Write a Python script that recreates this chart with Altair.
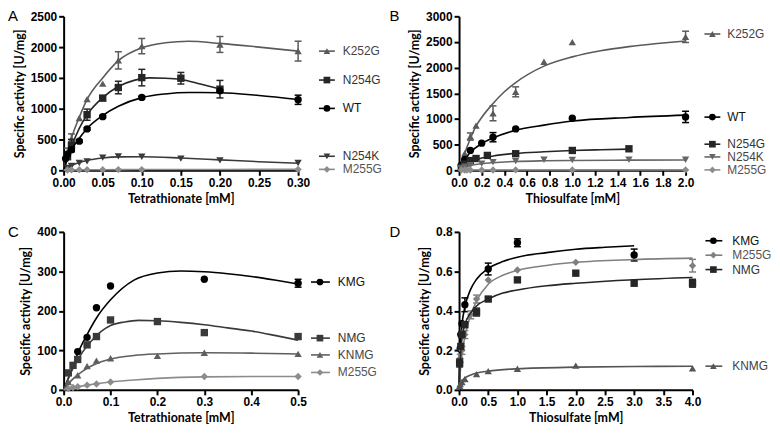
import altair as alt
import pandas as pd

# ---------------- Panel A : Tetrathionate ----------------
A_K252G_x = [0.005, 0.01, 0.02, 0.03, 0.05, 0.07, 0.10, 0.20, 0.30]
A_K252G_y = [300, 511, 850, 1156, 1408, 1785, 2016, 2043, 1935]
A_K252G_e = [60, 80, 0, 0, 0, 140, 124, 129, 161]
A_K252G_cx = [0, 0.01, 0.02, 0.03, 0.05, 0.07, 0.10, 0.13, 0.16, 0.20, 0.25, 0.30]
A_K252G_cy = [0, 520, 860, 1150, 1500, 1780, 1990, 2070, 2095, 2060, 2000, 1935]

A_N254G_x = [0.005, 0.01, 0.03, 0.05, 0.07, 0.10, 0.15, 0.20]
A_N254G_y = [220, 403, 903, 1172, 1344, 1505, 1495, 1317]
A_N254G_e = [0, 100, 91, 40, 102, 134, 94, 142]
A_N254G_cx = [0, 0.01, 0.02, 0.03, 0.05, 0.07, 0.09, 0.11, 0.13, 0.15, 0.175, 0.20]
A_N254G_cy = [0, 380, 680, 900, 1180, 1360, 1460, 1500, 1495, 1475, 1400, 1320]

A_WT_x = [0.0025, 0.005, 0.01, 0.02, 0.03, 0.05, 0.10, 0.20, 0.30]
A_WT_y = [190, 260, 334, 473, 672, 871, 1183, 1290, 1145]
A_WT_e = [0, 0, 30, 20, 20, 20, 20, 0, 75]
A_WT_cx = [0, 0.005, 0.01, 0.02, 0.03, 0.05, 0.07, 0.10, 0.13, 0.16, 0.20, 0.25, 0.30]
A_WT_cy = [0, 190, 330, 520, 680, 890, 1040, 1180, 1240, 1263, 1260, 1215, 1150]

A_N254K_x = [0.005, 0.01, 0.02, 0.03, 0.05, 0.07, 0.10, 0.15, 0.20, 0.30]
A_N254K_y = [40, 70, 118, 145, 205, 226, 220, 190, 161, 118]
A_N254K_e = [0, 0, 0, 0, 0, 0, 0, 0, 0, 0]
A_N254K_cx = [0, 0.01, 0.02, 0.03, 0.05, 0.07, 0.10, 0.15, 0.20, 0.25, 0.30]
A_N254K_cy = [0, 75, 125, 160, 200, 218, 220, 200, 170, 140, 115]

A_M255G_x = [0.005, 0.01, 0.02, 0.03, 0.05, 0.07, 0.10, 0.30]
A_M255G_y = [5, 8, 10, 10, 10, 12, 12, 15]
A_M255G_e = [0, 0, 0, 0, 0, 0, 0, 0]
A_M255G_cx = [0, 0.01, 0.05, 0.10, 0.20, 0.30]
A_M255G_cy = [0, 6, 10, 12, 14, 15]

# ---------------- Panel B : Thiosulfate ----------------
B_K252G_x = [0.02, 0.05, 0.1, 0.15, 0.3, 0.5, 0.75, 1.0, 2.0]
B_K252G_y = [130, 330, 658, 871, 1110, 1529, 2116, 2497, 2600]
B_K252G_e = [0, 0, 70, 0, 145, 97, 0, 0, 110]
B_K252G_cx = [0, 0.05, 0.1, 0.15, 0.2, 0.3, 0.4, 0.5, 0.75, 1.0, 1.25, 1.5, 1.75, 2.0]
B_K252G_cy = [0, 330, 620, 860, 1030, 1300, 1530, 1710, 2030, 2210, 2330, 2410, 2470, 2520]

B_WT_x = [0.02, 0.05, 0.1, 0.2, 0.3, 0.5, 1.0, 2.0]
B_WT_y = [100, 210, 387, 529, 645, 806, 1013, 1040]
B_WT_e = [0, 0, 0, 0, 90, 0, 0, 110]
B_WT_cx = [0, 0.05, 0.1, 0.2, 0.3, 0.5, 0.75, 1.0, 1.5, 2.0]
B_WT_cy = [0, 200, 350, 520, 630, 780, 880, 960, 1030, 1075]

B_N254G_x = [0.02, 0.05, 0.1, 0.15, 0.25, 0.5, 1.0, 1.5]
B_N254G_y = [60, 120, 190, 230, 290, 323, 387, 419]
B_N254G_e = [0, 0, 0, 0, 0, 0, 0, 0]
B_N254G_cx = [0, 0.05, 0.1, 0.2, 0.3, 0.5, 0.75, 1.0, 1.25, 1.5]
B_N254G_cy = [0, 110, 170, 240, 280, 330, 360, 385, 400, 412]

B_N254K_x = [0.02, 0.05, 0.1, 0.2, 0.3, 0.5, 0.75, 1.0, 1.5, 2.0]
B_N254K_y = [40, 70, 100, 130, 160, 180, 205, 200, 205, 205]
B_N254K_e = [0, 0, 0, 0, 0, 0, 0, 0, 0, 0]
B_N254K_cx = [0, 0.1, 0.2, 0.3, 0.5, 0.75, 1.0, 1.5, 2.0]
B_N254K_cy = [0, 95, 130, 150, 172, 185, 192, 198, 202]

B_M255G_x = [0.02, 0.05, 0.07, 0.1, 0.2, 0.3, 0.5, 1.0, 2.0]
B_M255G_y = [5, 5, 6, 6, 7, 7, 8, 8, 8]
B_M255G_e = [0, 0, 0, 0, 0, 0, 0, 0, 0]
B_M255G_cx = [0, 0.1, 0.5, 1.0, 2.0]
B_M255G_cy = [0, 5, 7, 8, 8]

# ---------------- Panel C : Tetrathionate ----------------
C_KMG_x = [0.03, 0.05, 0.07, 0.1, 0.3, 0.5]
C_KMG_y = [97, 133, 208, 263, 280, 270]
C_KMG_e = [0, 0, 0, 0, 0, 10]
C_KMG_cx = [0, 0.02, 0.03, 0.05, 0.07, 0.1, 0.15, 0.2, 0.25, 0.3, 0.35, 0.4, 0.45, 0.5]
C_KMG_cy = [0, 60, 92, 140, 182, 228, 278, 296, 301, 299, 294, 287, 278, 268]

C_NMG_x = [0.01, 0.02, 0.03, 0.05, 0.07, 0.1, 0.2, 0.3, 0.5]
C_NMG_y = [43, 62, 77, 114, 135, 177, 173, 145, 135]
C_NMG_e = [0, 0, 0, 0, 0, 0, 0, 0, 0]
C_NMG_cx = [0, 0.02, 0.04, 0.06, 0.08, 0.1, 0.13, 0.16, 0.2, 0.25, 0.3, 0.35, 0.4, 0.45, 0.5]
C_NMG_cy = [0, 55, 95, 125, 148, 163, 172, 176, 175, 171, 165, 157, 149, 138, 126]

C_KNMG_x = [0.01, 0.03, 0.05, 0.07, 0.1, 0.2, 0.3, 0.5]
C_KNMG_y = [20, 37, 60, 74, 80, 86, 94, 91]
C_KNMG_e = [0, 0, 0, 0, 0, 0, 0, 0]
C_KNMG_cx = [0, 0.02, 0.04, 0.06, 0.08, 0.1, 0.15, 0.2, 0.3, 0.4, 0.5]
C_KNMG_cy = [0, 28, 47, 61, 71, 78, 87, 91, 94, 93, 91]

C_M255G_x = [0.01, 0.02, 0.03, 0.05, 0.07, 0.1, 0.3, 0.5]
C_M255G_y = [3, 6, 8, 12, 15, 20, 34, 34]
C_M255G_e = [0, 0, 0, 0, 0, 0, 0, 0]
C_M255G_cx = [0, 0.05, 0.1, 0.15, 0.2, 0.3, 0.4, 0.5]
C_M255G_cy = [0, 12, 20, 25, 29, 33, 34, 34]

# ---------------- Panel D : Thiosulfate ----------------
D_KMG_x = [0.02, 0.03, 0.05, 0.1, 0.5, 1.0, 3.0]
D_KMG_y = [0.21, 0.28, 0.335, 0.431, 0.612, 0.745, 0.683]
D_KMG_e = [0, 0, 0, 0.035, 0.03, 0.02, 0.03]
D_KMG_cx = [0, 0.01, 0.02, 0.05, 0.1, 0.2, 0.3, 0.5, 0.75, 1.0, 1.5, 2.0, 2.5, 3.0]
D_KMG_cy = [0, 0.13, 0.21, 0.33, 0.42, 0.51, 0.56, 0.615, 0.65, 0.672, 0.695, 0.712, 0.722, 0.73]

D_M255G_x = [0.02, 0.05, 0.1, 0.2, 0.3, 0.5, 1.0, 2.0, 4.0]
D_M255G_y = [0.16, 0.2, 0.28, 0.38, 0.46, 0.557, 0.607, 0.646, 0.629]
D_M255G_e = [0.02, 0.02, 0.02, 0.02, 0.02, 0, 0, 0, 0.032]
D_M255G_cx = [0, 0.02, 0.05, 0.1, 0.2, 0.3, 0.5, 0.75, 1.0, 1.5, 2.0, 3.0, 4.0]
D_M255G_cy = [0, 0.09, 0.18, 0.27, 0.38, 0.45, 0.535, 0.58, 0.605, 0.63, 0.646, 0.66, 0.667]

D_NMG_x = [0.01, 0.03, 0.05, 0.1, 0.3, 0.5, 1.0, 2.0, 3.0, 4.0]
D_NMG_y = [0.136, 0.22, 0.28, 0.33, 0.394, 0.46, 0.557, 0.591, 0.54, 0.54]
D_NMG_e = [0.02, 0, 0, 0, 0.02, 0, 0, 0, 0, 0.02]
D_NMG_cx = [0, 0.02, 0.05, 0.1, 0.2, 0.3, 0.5, 0.75, 1.0, 1.5, 2.0, 3.0, 4.0]
D_NMG_cy = [0, 0.14, 0.26, 0.33, 0.39, 0.425, 0.46, 0.49, 0.506, 0.527, 0.54, 0.558, 0.569]

D_KNMG_x = [0.01, 0.02, 0.05, 0.1, 0.3, 0.5, 1.0, 2.0, 4.0]
D_KNMG_y = [0.02, 0.03, 0.04, 0.055, 0.08, 0.095, 0.107, 0.123, 0.109]
D_KNMG_e = [0, 0, 0, 0, 0, 0, 0, 0, 0]
D_KNMG_cx = [0, 0.05, 0.1, 0.2, 0.3, 0.5, 1.0, 2.0, 3.0, 4.0]
D_KNMG_cy = [0, 0.045, 0.06, 0.075, 0.085, 0.095, 0.107, 0.115, 0.118, 0.12]

# ---------------- Styling ----------------
LBL_FONT = "Liberation Sans"
TTL_FONT = "Lato"


def series(name, x, y, e, cx, cy, color, shape, text_color, nudge):
    return dict(name=name, x=x, y=y, e=e, cx=cx, cy=cy, color=color,
                shape=shape, tcolor=text_color, nudge=nudge)


def panel(slist, xdom, ydom, xticks, yticks, xfmt, yfmt, xtitle, w, h,
          letter, letter_dx, leg_r0, leg_r1, leg_m, leg_t):
    xs = alt.Scale(domain=xdom, nice=False, zero=False)
    ys = alt.Scale(domain=ydom, nice=False, zero=False)
    xax = alt.Axis(values=xticks, format=xfmt, title=xtitle,
                   labelOverlap=False, labelFlush=False)
    yax = alt.Axis(values=yticks, format=yfmt,
                   title="Specific activity [U/mg]",
                   labelOverlap=False, labelFlush=False)

    def X(f):
        return alt.X(f, type="quantitative", scale=xs, axis=xax)

    def Y(f):
        return alt.Y(f, type="quantitative", scale=ys, axis=yax)

    layers = []
    for s in slist:
        c = s["color"]
        curve = pd.DataFrame({"x": s["cx"], "y": s["cy"]})
        pts = pd.DataFrame({"x": s["x"], "y": s["y"], "e": s["e"]})
        pts["lo"] = pts["y"] - pts["e"]
        pts["hi"] = pts["y"] + pts["e"]
        err = pts[pts["e"] > 0]
        end = pd.DataFrame({"y": [s["cy"][-1]], "lab": [s["name"]]})

        layers.append(alt.Chart(curve).mark_line(
            color=c, strokeWidth=1.6, interpolate="monotone").encode(
            x=X("x"), y=Y("y")))
        if len(err):
            layers.append(alt.Chart(err).mark_rule(
                color=c, strokeWidth=1.5).encode(
                x=X("x"), y=Y("lo"), y2=alt.Y2("hi")))
            layers.append(alt.Chart(err).mark_tick(
                color=c, orient="horizontal", size=7, thickness=1.5,
                opacity=1).encode(x=X("x"), y=Y("lo")))
            layers.append(alt.Chart(err).mark_tick(
                color=c, orient="horizontal", size=7, thickness=1.5,
                opacity=1).encode(x=X("x"), y=Y("hi")))
        layers.append(alt.Chart(pts).mark_point(
            filled=True, shape=s["shape"], size=55, color=c,
            opacity=1).encode(x=X("x"), y=Y("y")))
        # legend entry placed at the curve's end value
        layers.append(alt.Chart(end).mark_rule(
            color=c, strokeWidth=1.6, yOffset=s["nudge"]).encode(
            x=alt.value(w + leg_r0), x2=alt.value(w + leg_r1), y=Y("y")))
        layers.append(alt.Chart(end).mark_point(
            filled=True, shape=s["shape"], size=45, color=c, opacity=1,
            yOffset=s["nudge"]).encode(x=alt.value(w + leg_m), y=Y("y")))
        layers.append(alt.Chart(end).mark_text(
            align="left", baseline="middle", font=LBL_FONT, fontSize=12,
            color=s["tcolor"], dy=s["nudge"]).encode(
            x=alt.value(w + leg_t), y=Y("y"), text="lab:N"))

    lt = pd.DataFrame({"t": [letter]})
    layers.append(alt.Chart(lt).mark_text(
        align="left", baseline="middle", font=LBL_FONT, fontSize=15,
        color="black").encode(x=alt.value(letter_dx), y=alt.value(0),
                              text="t:N"))
    return alt.layer(*layers).properties(width=w, height=h)


pA = panel([
    series("K252G", A_K252G_x, A_K252G_y, A_K252G_e, A_K252G_cx, A_K252G_cy, "#5a5a5a", "triangle-up", "#444444", 0),
    series("N254G", A_N254G_x, A_N254G_y, A_N254G_e, A_N254G_cx, A_N254G_cy, "#262626", "square", "#333333", -9),
    series("WT", A_WT_x, A_WT_y, A_WT_e, A_WT_cx, A_WT_cy, "#000000", "circle", "#111111", 9),
    series("N254K", A_N254K_x, A_N254K_y, A_N254K_e, A_N254K_cx, A_N254K_cy, "#3a3a3a", "triangle-down", "#333333", -7),
    series("M255G", A_M255G_x, A_M255G_y, A_M255G_e, A_M255G_cx, A_M255G_cy, "#8c8c8c", "diamond", "#555555", 0),
], [0, 0.30], [0, 2500], [0, 0.05, 0.10, 0.15, 0.20, 0.25, 0.30],
    [0, 500, 1000, 1500, 2000, 2500], ".2f", "d", "Tetrathionate [mM]",
    236, 155, "A", -56, 21, 37, 29, 45)

pB = panel([
    series("K252G", B_K252G_x, B_K252G_y, B_K252G_e, B_K252G_cx, B_K252G_cy, "#5a5a5a", "triangle-up", "#444444", -7),
    series("WT", B_WT_x, B_WT_y, B_WT_e, B_WT_cx, B_WT_cy, "#000000", "circle", "#111111", 2),
    series("N254G", B_N254G_x, B_N254G_y, B_N254G_e, B_N254G_cx, B_N254G_cy, "#262626", "square", "#333333", -5),
    series("N254K", B_N254K_x, B_N254K_y, B_N254K_e, B_N254K_cx, B_N254K_cy, "#666666", "triangle-down", "#444444", -3),
    series("M255G", B_M255G_x, B_M255G_y, B_M255G_e, B_M255G_cx, B_M255G_cy, "#8c8c8c", "diamond", "#555555", 0),
], [0, 2.0], [0, 3000], [0, 0.2, 0.4, 0.6, 0.8, 1.0, 1.2, 1.4, 1.6, 1.8, 2.0],
    [0, 500, 1000, 1500, 2000, 2500, 3000], ".1f", "d", "Thiosulfate [mM]",
    228, 155, "B", -70, 19, 35, 27, 42)

pC = panel([
    series("KMG", C_KMG_x, C_KMG_y, C_KMG_e, C_KMG_cx, C_KMG_cy, "#000000", "circle", "#111111", -2),
    series("NMG", C_NMG_x, C_NMG_y, C_NMG_e, C_NMG_cx, C_NMG_cy, "#3a3a3a", "square", "#333333", -2),
    series("KNMG", C_KNMG_x, C_KNMG_y, C_KNMG_e, C_KNMG_cx, C_KNMG_cy, "#5f5f5f", "triangle-up", "#444444", 1),
    series("M255G", C_M255G_x, C_M255G_y, C_M255G_e, C_M255G_cx, C_M255G_cy, "#8c8c8c", "diamond", "#555555", -4),
], [0, 0.5], [0, 400], [0, 0.1, 0.2, 0.3, 0.4, 0.5],
    [0, 100, 200, 300, 400], ".1f", "d", "Tetrathionate [mM]",
    236, 159, "C", -56, 13, 32, 22, 40)

pD = panel([
    series("KMG", D_KMG_x, D_KMG_y, D_KMG_e, D_KMG_cx, D_KMG_cy, "#000000", "circle", "#111111", -5),
    series("M255G", D_M255G_x, D_M255G_y, D_M255G_e, D_M255G_cx, D_M255G_cy, "#808080", "diamond", "#555555", -3),
    series("NMG", D_NMG_x, D_NMG_y, D_NMG_e, D_NMG_cx, D_NMG_cy, "#262626", "square", "#333333", -8),
    series("KNMG", D_KNMG_x, D_KNMG_y, D_KNMG_e, D_KNMG_cx, D_KNMG_cy, "#555555", "triangle-up", "#444444", 0),
], [0, 4.0], [0, 0.8], [0, 0.5, 1.0, 1.5, 2.0, 2.5, 3.0, 3.5, 4.0],
    [0, 0.2, 0.4, 0.6, 0.8], ".1f", ".1f", "Thiosulfate [mM]",
    235, 159, "D", -70, 13, 30, 21, 40)

chart = alt.concat(
    pA, pB, pC, pD, columns=2, bounds="flush",
    spacing={"row": 62, "column": 162}
).properties(
    padding={"left": 0, "top": 0, "right": 0, "bottom": 0}
).configure_view(stroke=None).configure_axis(
    domainColor="black", domainWidth=2, tickColor="black", tickWidth=2,
    tickSize=5, labelFont=LBL_FONT, labelFontSize=12, labelFontWeight="bold",
    labelColor="black", labelPadding=2, titleFont=TTL_FONT, titleFontSize=12.5,
    titleFontWeight="bold", titleColor="black", titlePadding=4, grid=False
)

chart.save("out.html", embed_options={"renderer": "svg", "actions": False})
